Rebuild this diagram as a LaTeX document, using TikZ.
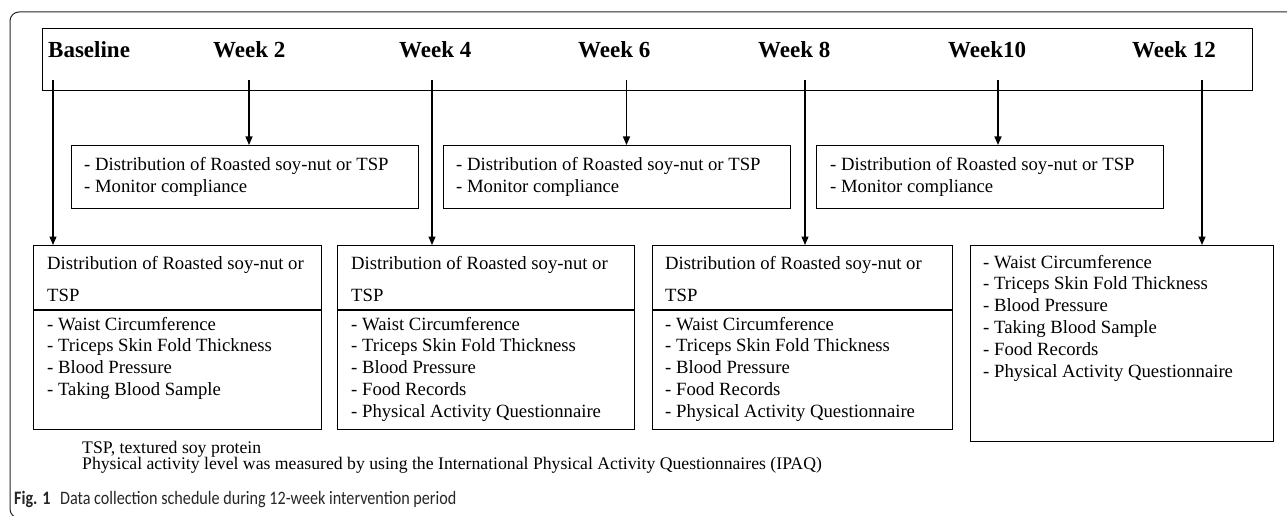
\documentclass[tikz,border=0pt]{standalone}
\usepackage{fontspec}
\usepackage{graphicx}
\setmainfont{Liberation Serif}
\newfontfamily\capfont[FakeStretch=0.85]{Carlito}
\usetikzlibrary{arrows.meta}
\begin{document}
\begin{tikzpicture}[x=1pt,y=-1pt,
  box/.style={draw, line width=1.2pt, anchor=north west, inner sep=0pt},
  hdr/.style={anchor=base west, inner sep=0pt, font=\fontsize{23}{27}\selectfont\bfseries},
  txt/.style={anchor=base west, inner sep=0pt, font=\fontsize{18.7}{21.75}\selectfont},
  fn/.style={anchor=base west, inner sep=0pt, font=\fontsize{17.7}{16}\selectfont},
  arr/.style={line width=1.2pt, -{Triangle[length=8.5pt,width=7pt]}},
  divline/.style={line width=1.2pt},
]
\useasboundingbox (0,0) rectangle (1287,516);
\begin{scope}
\clip (0,0) rectangle (1287,516);
\draw[line width=1pt, rounded corners=9pt, black!85] (1300,12) -- (10,12) -- (10,518) -- (60,518);
\end{scope}

% header bar
\node[box, minimum width=1210pt, minimum height=62pt] (top) at (42,28) {};
\node[hdr] (h0) at (48,58) {Baseline};
\node[hdr] (h1) at (213,58) {Week 2};
\node[hdr] (h2) at (399,58) {Week 4};
\node[hdr] (h3) at (578,58) {Week 6};
\node[hdr] (h4) at (758,58) {Week 8};
\node[hdr] (h5) at (948,58) {Week10};
\node[hdr] (h6) at (1132,58) {Week 12};

% middle boxes
\node[box, minimum width=347pt, minimum height=63pt] (m1) at (71,145) {};
\node[box, minimum width=347pt, minimum height=63pt] (m2) at (443,145) {};
\node[box, minimum width=347pt, minimum height=63pt] (m3) at (816,145) {};
\foreach \bx/\xx in {1/84,2/456,3/830}{
  \node[txt] (m\bx a) at (\xx,170) {- Distribution of Roasted soy-nut or TSP};
  \node[txt] (m\bx b) at (\xx,192) {- Monitor compliance};
}

% bottom boxes
\node[box, minimum width=288pt, minimum height=184pt] (b1) at (33,245) {};
\node[box, minimum width=297pt, minimum height=184pt] (b2) at (337,245) {};
\node[box, minimum width=300pt, minimum height=184pt] (b3) at (652,245) {};
\node[box, minimum width=303pt, minimum height=196pt] (b4) at (970,245) {};
\coordinate (dv) at (0,310);
\foreach \bb in {b1,b2,b3}{
  \draw[divline] (\bb.west |- dv) -- (\bb.east |- dv);
}
\foreach \bb/\xx in {b1/47,b2/351,b3/665}{
  \node[txt] (\bb d1) at (\xx,269) {Distribution of Roasted soy-nut or};
  \node[txt] (\bb d2) at (\xx,301) {TSP};
}
\foreach \t [count=\i from 0] in {- Waist Circumference,- Triceps Skin Fold Thickness,- Blood Pressure,- Taking Blood Sample}{
  \node[txt] (b1i\i) at (47,{330+21.75*\i}) {\t};
}
\foreach \bb/\xx in {b2/351,b3/665}{
  \foreach \t [count=\i from 0] in {- Waist Circumference,- Triceps Skin Fold Thickness,- Blood Pressure,- Food Records,- Physical Activity Questionnaire}{
    \node[txt] (\bb i\i) at (\xx,{330+21.75*\i}) {\t};
  }
}
\foreach \t [count=\i from 0] in {- Waist Circumference,- Triceps Skin Fold Thickness,- Blood Pressure,- Taking Blood Sample,- Food Records,- Physical Activity Questionnaire}{
  \node[txt] (b4i\i) at (983,{268+21.8*\i}) {\t};
}

% arrows
\coordinate (s0) at (53,80);
\coordinate (s1) at (249,80);
\coordinate (s2) at (432,80);
\coordinate (s3) at (626.5,80);
\coordinate (s4) at (805,80);
\coordinate (s5) at (998,80);
\coordinate (s6) at (1202,80);
\draw[arr] (s0) -- (s0 |- b1.north);
\draw[arr] (s1) -- (s1 |- m1.north);
\draw[arr] (s2) -- (s2 |- b2.north);
\draw[arr] (s3) -- (s3 |- m2.north);
\draw[arr] (s4) -- (s4 |- b3.north);
\draw[arr] (s5) -- (s5 |- m3.north);
\draw[arr] (s6) -- (s6 |- b4.north);

% footnotes
\node[fn] (fn1) at (82,453) {TSP, textured soy protein};
\node[fn] (fn2) at (82,469) {Physical activity level was measured by using the International Physical Activity Questionnaires (IPAQ)};

% caption
\node[anchor=base west, inner sep=0pt, text=black!85, font=\capfont\fontsize{19}{22}\selectfont] (cap) at (14,504) {\textbf{Fig. 1}\hspace{0.5em}Data collection schedule during 12-week intervention period};
\end{tikzpicture}
\end{document}
